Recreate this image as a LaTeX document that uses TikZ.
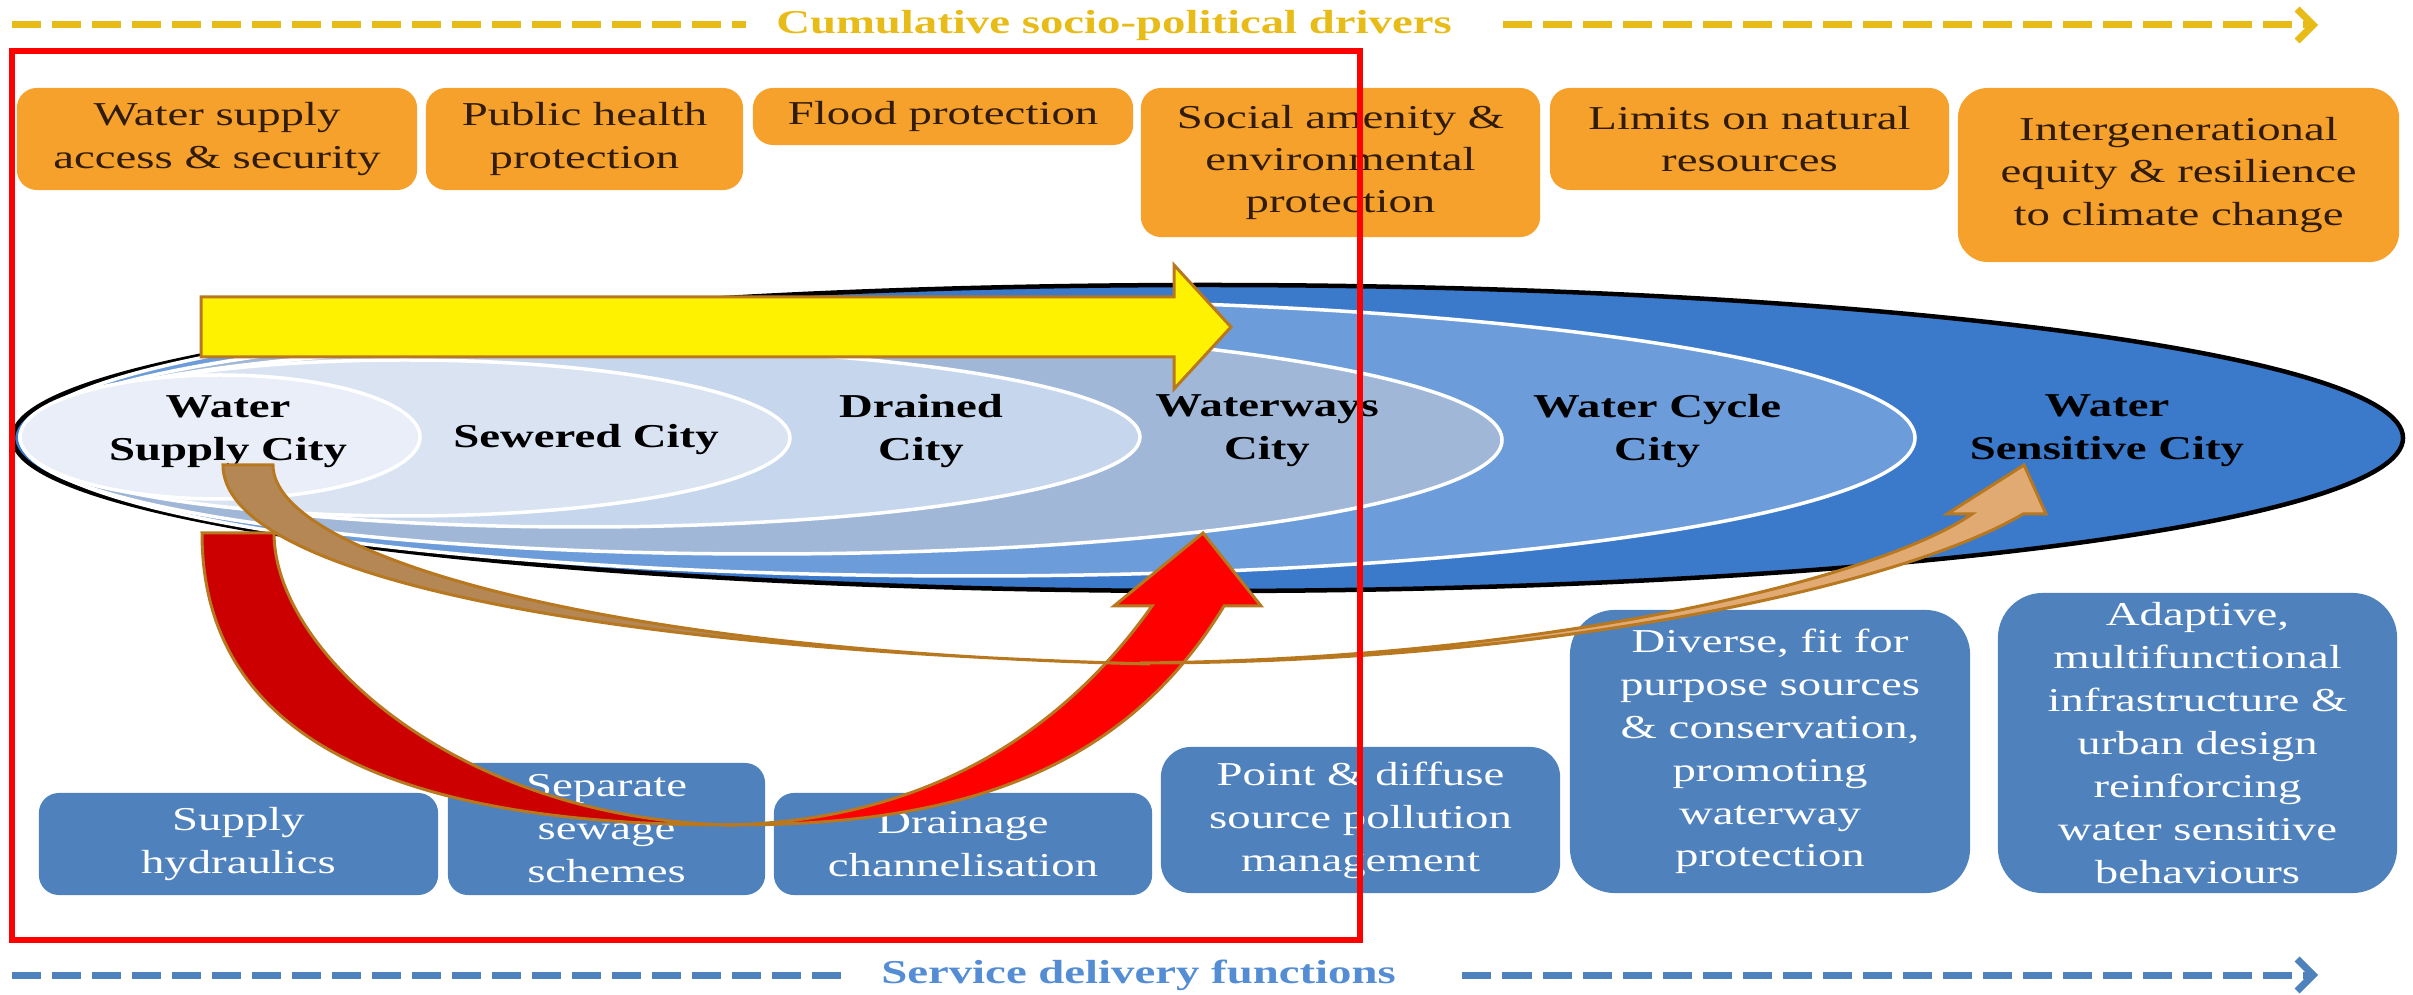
\documentclass[tikz,border=0pt]{standalone}
\usepackage{fontspec}
\setmainfont[FakeStretch=1.4]{Liberation Serif}
\usepackage{tikz}
\usetikzlibrary{arrows.meta}
\definecolor{drvorange}{RGB}{246,161,44}
\definecolor{drvtext}{RGB}{48,28,8}
\definecolor{drvgold}{RGB}{232,188,24}
\definecolor{srvblue}{RGB}{79,129,189}
\definecolor{srvtext}{RGB}{84,141,212}
\definecolor{wsc}{RGB}{59,122,202}
\definecolor{wcc}{RGB}{108,157,218}
\definecolor{wwc}{RGB}{160,183,215}
\definecolor{drc}{RGB}{198,214,236}
\definecolor{swc}{RGB}{218,227,242}
\definecolor{wspc}{RGB}{233,238,248}
\definecolor{arrowrim}{RGB}{183,120,32}
\definecolor{reddark}{RGB}{204,0,0}
\definecolor{tandark}{RGB}{180,135,85}
\definecolor{tanlight}{RGB}{226,170,115}
\tikzset{
    drvbox/.style = {rectangle, rounded corners=2mm, fill=drvorange, text=drvtext, align=center, inner sep=0pt, font=\fontsize{9.5}{12}\selectfont},
    srvbox/.style = {rectangle, rounded corners=2mm, fill=srvblue, text=white, align=center, inner sep=0pt, font=\fontsize{9.5}{12.2}\selectfont},
    citynode/.style = {align=center, text=black, font=\bfseries\fontsize{9.5}{12.2}\selectfont},
    headnode/.style = {inner xsep=3mm, font=\bfseries\fontsize{9.5}{12}\selectfont},
    ring/.style = {draw=white, line width=0.35mm},
    golddash/.style = {draw=drvgold, line width=0.7mm, dash pattern=on 2.9mm off 1.1mm},
    bluedash/.style = {draw=srvblue, line width=0.7mm, dash pattern=on 2.9mm off 1.1mm},
    chevron/.style = {-{Straight Barb[length=1.6mm,width=3.2mm]}},
    blockarrow/.style = {draw=arrowrim, line width=0.3mm, line join=miter}, % shape arrows
}
\begin{document}
\begin{tikzpicture}[x=0.01cm, y=-0.01cm]
\useasboundingbox (0,0) rectangle (2413,995);
%
\node[headnode, text=drvgold] at (1114,25) (drv) {Cumulative socio-political drivers};
\coordinate (drvl) at (12,25);
\coordinate (drvr) at (2318,25);
\draw[golddash] (drvl) -- (drv);
\draw[golddash, chevron, shorten <=2mm] (drv) -- (drvr);
%
\node[drvbox, minimum width=4cm, minimum height=1.02cm] at (217,139) (d1) {Water supply\\access \& security};
\node[drvbox, minimum width=3.17cm, minimum height=1.02cm] at (584.5,139) (d2) {Public health\\protection};
\node[drvbox, minimum width=3.8cm, minimum height=0.57cm] at (943,116.5) (d3) {Flood protection};
\node[drvbox, minimum width=3.99cm, minimum height=1.49cm] at (1340.5,162.5) (d4) {Social amenity \&\\environmental\\protection};
\node[drvbox, minimum width=3.99cm, minimum height=1.02cm] at (1749.5,139) (d5) {Limits on natural\\resources};
\node[drvbox, minimum width=4.41cm, minimum height=1.74cm, rounded corners=3mm] at (2178.5,175) (d6) {Intergenerational\\equity \& resilience\\to climate change};
%
\filldraw[fill=wsc, draw=black, line width=0.45mm] (1208,438) ellipse [x radius=1195, y radius=153];
\filldraw[fill=wcc, ring] (970,438) ellipse [x radius=945, y radius=138];
\filldraw[fill=wwc, ring] (762,440) ellipse [x radius=740, y radius=114];
\filldraw[fill=drc, ring] (580,437) ellipse [x radius=560, y radius=90];
\filldraw[fill=swc, ring] (405,438) ellipse [x radius=385, y radius=78];
\filldraw[fill=wspc, ring] (220,437) ellipse [x radius=200, y radius=62];
%
\node[citynode] at (228,432) (wsup) {Water\\Supply City};
\node[citynode] at (586,440) (sew) {Sewered City};
\node[citynode] at (921,431) (drn) {Drained\\City};
\node[citynode] at (1267,431) (wwy) {Waterways\\City};
\node[citynode] at (1657,431) (wcy) {Water Cycle\\City};
\node[citynode] at (2107,431) (wsen) {Water\\Sensitive City};
%
\node[srvbox, minimum width=3.99cm, minimum height=1.02cm] at (238.5,844) (s1) {Supply\\hydraulics};
\node[srvbox, minimum width=3.17cm, minimum height=1.32cm] at (606.5,829) (s2) {Separate\\sewage\\schemes};
\node[srvbox, minimum width=3.78cm, minimum height=1.02cm] at (963,844) (s3) {Drainage\\channelisation};
\node[srvbox, minimum width=3.99cm, minimum height=1.46cm, rounded corners=3mm] at (1360.5,820) (s4) {Point \& diffuse\\source pollution\\management};
\node[srvbox, minimum width=4cm, minimum height=2.83cm, rounded corners=4.5mm] at (1770,751.5) (s5) {Diverse, fit for\\purpose sources\\\& conservation,\\promoting\\waterway\\protection};
\node[srvbox, minimum width=3.99cm, minimum height=3cm, rounded corners=4.5mm] at (2197.5,743) (s6) {Adaptive,\\multifunctional\\infrastructure \&\\urban design\\reinforcing\\water sensitive\\behaviours};
%
\node[headnode, text=srvtext] at (1138.5,975) (srv) {Service delivery functions};
\coordinate (srvl) at (12,975);
\coordinate (srvr) at (2318,975);
\draw[bluedash] (srvl) -- (srv);
\draw[bluedash, chevron, shorten <=3.6mm] (srv) -- (srvr);
%
\draw[blockarrow, fill=yellow] (201,297) -- (1174,297) -- (1174,265) -- (1231,327) -- (1174,389) -- (1174,357) -- (201,357) -- cycle;
%
\draw[blockarrow, fill=reddark] (202,533) .. controls (202,733) and (385,826) .. (735,825) .. controls (460,821) and (274,653) .. (274,533) -- cycle;
\draw[blockarrow, fill=red] (725,825) .. controls (950,826) and (1120,777) .. (1224,606) -- (1261,606) -- (1203,533) -- (1114,606) -- (1152,606) .. controls (1048,753) and (900,822) .. (725,825) -- cycle;
%
\draw[blockarrow, fill=tandark] (223,465) .. controls (223,570) and (560,648) .. (1150,664) .. controls (600,652) and (273,555) .. (273,465) -- cycle;
\draw[blockarrow, fill=tanlight] (1140,663) .. controls (1550,663) and (1903,585) .. (2023,514) -- (2046,514) -- (2024,465) -- (1947,514) -- (1972,514) .. controls (1880,578) and (1550,659) .. (1140,663) -- cycle;
%
\draw[red, line width=0.6mm] (12,51) rectangle (1360,940);
\end{tikzpicture}
\end{document}
